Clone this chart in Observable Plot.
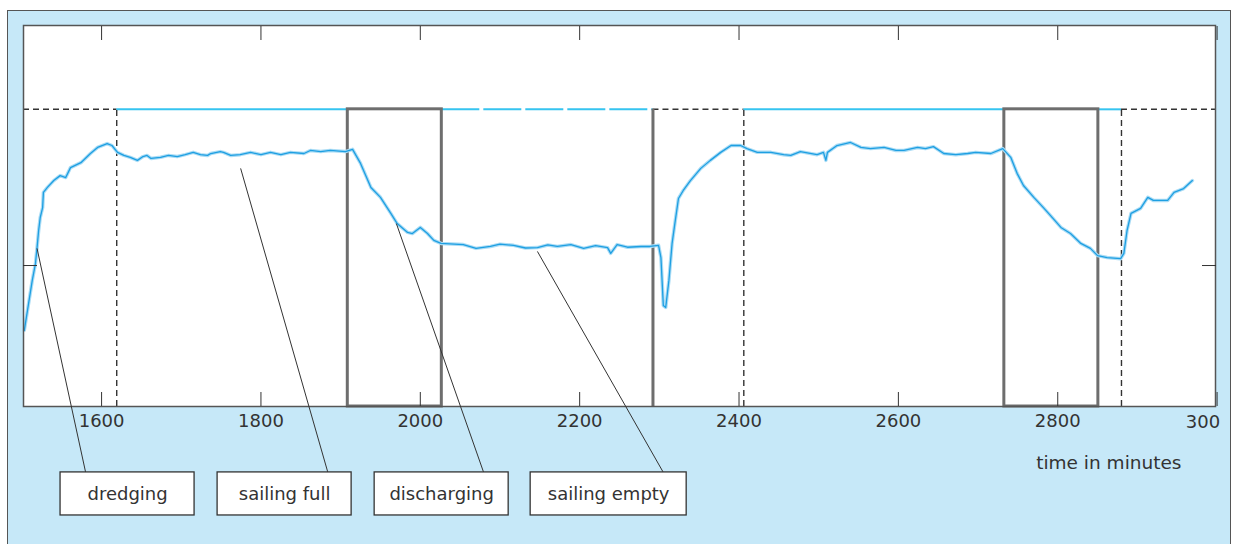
<!DOCTYPE html>
<html><head><meta charset="utf-8">
<script src="https://cdn.jsdelivr.net/npm/d3@7"></script>
<script src="https://cdn.jsdelivr.net/npm/@observablehq/plot@0.6"></script>
<style>
html,body{margin:0;padding:0;background:#fff;width:1236px;height:544px;overflow:hidden;}
#panel{position:absolute;left:7px;top:10px;width:1224px;height:560px;background:#c6e8f8;border:1.5px solid #555;box-sizing:border-box;}
#chart{position:absolute;left:0;top:0;}
</style></head><body><div id="panel"></div><div id="chart"></div>
<script>
// time (minutes) and hopper load (relative units)
const minutes = [1503,1513,1517,1519,1521,1523,1526,1527,1532,1540,
  1548,1555,1561,1574,1586,1595,1607,1613,1620,1628,
  1636,1645,1652,1657,1662,1674,1684,1695,1705,1715,
  1724,1733,1737,1749,1753,1762,1774,1787,1800,1812,
  1825,1837,1854,1862,1875,1887,1906,1915,1925,1938,
  1950,1963,1971,1984,1990,2000,2009,2017,2026,2054,
  2070,2088,2100,2117,2132,2147,2160,2172,2189,2205,
  2220,2235,2239,2247,2260,2277,2288,2299,2302,2305,
  2308,2312,2316,2320,2324,2330,2339,2352,2364,2377,
  2390,2402,2410,2423,2440,2456,2465,2477,2498,2506,
  2509,2511,2523,2540,2553,2565,2582,2597,2607,2624,
  2634,2644,2657,2672,2687,2697,2716,2731,2741,2749,
  2757,2770,2782,2791,2804,2816,2829,2841,2850,2862,
  2879,2883,2887,2892,2904,2913,2920,2938,2946,2958,
  2969];
const load = [20,33.1,37.5,41.7,46.2,49.6,52.2,56.2,57.5,59.3,
  60.6,60.1,62.7,64.0,66.4,68.0,69.0,68.5,66.7,65.9,
  65.4,64.6,65.6,65.9,65.1,65.4,65.9,65.6,66.1,66.7,
  66.1,65.9,66.4,66.9,66.7,65.9,66.1,66.7,66.1,66.7,
  66.1,66.7,66.4,67.2,66.9,67.2,66.9,67.5,63.8,57.5,
  54.9,50.7,48.0,45.7,45.4,47.0,45.4,43.6,42.8,42.5,
  41.5,42.0,42.6,42.3,41.6,41.7,42.4,42.0,42.5,41.5,
  42.2,41.7,40.2,42.5,41.8,42.0,42.0,42.3,39.1,26.5,
  26.0,33.1,42.8,48.8,54.6,56.7,59.3,62.5,64.6,66.7,
  68.5,68.5,67.7,66.7,66.7,66.1,65.9,66.9,66.1,66.7,
  64.6,66.7,68.5,69.3,68.0,67.7,68.0,67.2,67.2,68.0,
  67.7,68.2,66.4,66.1,66.4,66.7,66.4,67.7,65.4,61.2,
  58.0,54.9,52.2,50.1,47.0,45.4,42.8,41.5,39.6,39.1,
  38.8,40.2,46.2,50.7,52.0,54.9,54.1,54.1,56.2,57.2,
  59.3];

const fullLevel = 78;
const midTick = [37];
const xDomain = [1502, 2998];
const xTickValues = [1600, 1800, 2000, 2200, 2400, 2600, 2800, 3000];
const xTickLabels = [1600, 1800, 2000, 2200, 2400, 2600, 2800];

// phase boundaries (minutes)
const dashedMarks = [1619, 2406, 2880];
const dischargeStart = [1909, 2733];
const dischargeEnd = [2027, 2851];
const emptyStart = [2292];
// full-level line pieces
const solidStart = [1619, 2406, 2851];
const solidEnd = [1909, 2733, 2880];
const dashedCyanStart = [2027];
const dashedCyanEnd = [2292];
const dashedBlackStart = [1502, 2292, 2880];
const dashedBlackEnd = [1619, 2406, 2998];

// annotations
const phaseNames = ["dredging", "sailing full", "discharging", "sailing empty"];
const boxX1 = [1548.5, 1745.6, 1942.7, 2138.5];
const boxX2 = [1716.7, 1913.8, 2110.9, 2334.3];
const boxTop = -17.3, boxBottom = -28.6, boxMid = -22.9;
const fromX = [1519, 1774.5, 1970, 2147];
const fromY = [41.5, 62.5, 48, 40.7];
const toX = [1580, 1884, 2079.5, 2305];

const series = minutes.map((m, i) => ({m, v: load[i]}));
const phases = phaseNames.map((name, i) => ({name, x1: boxX1[i], x2: boxX2[i], fx: fromX[i], fy: fromY[i], tx: toX[i]}));
const seg = (a, b) => a.map((s, i) => ({s, e: b[i]}));

const chart = Plot.plot({
  width: 1236, height: 544,
  marginLeft: 23, marginRight: 21, marginTop: 25, marginBottom: 138,
  x: {domain: xDomain, axis: null},
  y: {domain: [0, 100], axis: null},
  style: {background: "transparent", fontFamily: "DejaVu Sans", fontSize: "18px", color: "#333", overflow: "visible"},
  marks: [
    Plot.frame({fill: "white", stroke: null}),
    Plot.ruleY(seg(solidStart, solidEnd), {y: () => fullLevel, x1: "s", x2: "e", stroke: "#36c4f0", strokeWidth: 2}),
    Plot.ruleY(seg(dashedCyanStart, dashedCyanEnd), {y: () => fullLevel, x1: "s", x2: "e", stroke: "#36c4f0", strokeWidth: 2, strokeDasharray: "38,4"}),
    Plot.ruleY(seg(dashedBlackStart, dashedBlackEnd), {y: () => fullLevel, x1: "s", x2: "e", stroke: "#333", strokeWidth: 1.4, strokeDasharray: "6,4"}),
    Plot.ruleX(dashedMarks, {x: d => d, y1: 0, y2: fullLevel, stroke: "#333", strokeWidth: 1.4, strokeDasharray: "6,4"}),
    Plot.rect(seg(dischargeStart, dischargeEnd), {x1: "s", x2: "e", y1: 0, y2: fullLevel, fill: "none", stroke: "#6e6e6e", strokeWidth: 3}),
    Plot.ruleX(emptyStart, {x: d => d, y1: 0, y2: fullLevel, stroke: "#6e6e6e", strokeWidth: 3}),
    Plot.line(series, {x: "m", y: "v", stroke: "#aadcf5", strokeWidth: 3.5}),
    Plot.line(series, {x: "m", y: "v", stroke: "#1e9fe2", strokeWidth: 1.3}),
    Plot.frame({stroke: "#555", strokeWidth: 1.5}),
    Plot.axisX(xTickValues, {anchor: "bottom", tickSize: -14, tickFormat: () => "", label: null, stroke: "#333"}),
    Plot.axisX(xTickValues, {anchor: "top", tickSize: -14, tickFormat: () => "", label: null, stroke: "#333"}),
    Plot.axisX(xTickLabels, {anchor: "bottom", tickSize: 0, tickPadding: 8, tickFormat: d => String(d), label: null, fontSize: 18}),
    Plot.text(["300"], {x: () => 3000, frameAnchor: "bottom", dy: 16, dx: 3, textAnchor: "end", lineAnchor: "middle", fontSize: 18}),
    Plot.axisY(midTick, {anchor: "left", tickSize: -14, tickFormat: () => "", label: null, stroke: "#333"}),
    Plot.axisY(midTick, {anchor: "right", tickSize: -14, tickFormat: () => "", label: null, stroke: "#333"}),
    Plot.text(["time in minutes"], {frameAnchor: "bottom-right", dx: -34, dy: 57, textAnchor: "end", lineAnchor: "middle", fontSize: 18.5}),
    Plot.link(phases, {x1: "fx", y1: "fy", x2: "tx", y2: () => boxTop, stroke: "#333", strokeWidth: 1}),
    Plot.rect(phases, {x1: "x1", x2: "x2", y1: () => boxTop, y2: () => boxBottom, fill: "white", stroke: "#333", strokeWidth: 1.3}),
    Plot.text(phases, {x: d => (d.x1 + d.x2) / 2, y: () => boxMid, text: "name", fontSize: 18, lineAnchor: "middle"})
  ]
});
document.getElementById("chart").appendChild(chart);
</script></body></html>
